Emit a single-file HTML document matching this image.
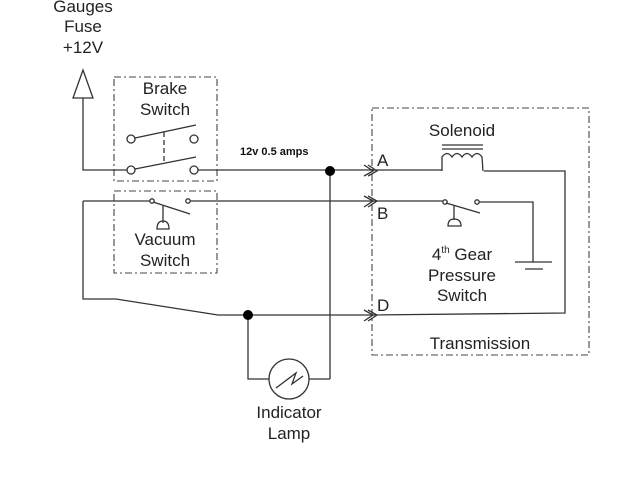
<!DOCTYPE html>
<html><head><style>body{margin:0;background:#fff}svg{display:block}text{font-family:"Liberation Sans",sans-serif;fill:#222}</style></head><body>
<svg width="640" height="480" viewBox="0 0 640 480" xmlns="http://www.w3.org/2000/svg">
<g fill="none" stroke="#333" stroke-width="1.3">
<g stroke="#444" stroke-width="1.1" stroke-dasharray="7,3,2,3">
<rect x="114" y="77" width="103" height="104"/>
<rect x="114" y="191" width="103" height="82"/>
<rect x="372" y="108" width="217" height="247"/>
</g>
<polygon points="83,70 73,98 93,98"/>
<polyline points="83,98 83,170 127,170"/>
<circle cx="131" cy="139" r="4"/><circle cx="194" cy="139" r="4"/>
<circle cx="131" cy="170" r="4"/><circle cx="194" cy="170" r="4"/>
<line x1="135" y1="138" x2="196" y2="125"/>
<line x1="135" y1="169" x2="196" y2="157"/>
<line x1="164" y1="132" x2="164" y2="163" stroke-dasharray="5,3"/>
<line x1="198" y1="170" x2="442" y2="170"/>
<line x1="83" y1="201" x2="150" y2="201"/>
<circle cx="152" cy="201" r="2.2"/><circle cx="188" cy="201" r="2.2"/>
<line x1="153" y1="202" x2="190" y2="214"/>
<line x1="163" y1="206" x2="163" y2="223"/>
<path d="M157,229 Q157,221 163,221 Q169,221 169,229 Z"/>
<line x1="190" y1="201" x2="443" y2="201"/>
<polyline points="83,201 83,299 116,299 218,315 372,315"/>
<polyline points="372,315 565,313 565,171 484,171"/>
<line x1="330" y1="171" x2="330" y2="379"/>
<polyline points="248,315 248,379 269,379"/>
<line x1="309" y1="379" x2="330" y2="379"/>
<circle cx="289" cy="379" r="20"/>
<polyline points="276,388 296,373 292,384 303,376"/>
<polyline points="364,165 373,171 364,176"/><polyline points="368,165 377,171 368,176"/>
<polyline points="364,196 373,201 364,207"/><polyline points="368,196 377,201 368,207"/>
<polyline points="364,310 373,315 364,321"/><polyline points="368,310 377,315 368,321"/>
<path d="M442,171 L442,157 Q447,150 452,157 Q457,150 462,157 Q467,150 472,157 Q477,150 482,157 L483,171"/>
<line x1="442" y1="145" x2="483" y2="145"/><line x1="442" y1="149" x2="483" y2="149"/>
<circle cx="445" cy="202" r="2.2"/><circle cx="477" cy="202" r="2.2"/>
<line x1="446" y1="203" x2="480" y2="213"/>
<line x1="454" y1="206" x2="454" y2="220"/>
<path d="M448,226 Q448,219 454,219 Q461,219 461,226 Z"/>
<polyline points="479,202 533,202 533,262"/>
<line x1="515" y1="262" x2="552" y2="262"/>
<line x1="525" y1="269" x2="543" y2="269"/>
</g>
<circle cx="330" cy="171" r="5" fill="#000"/>
<circle cx="248" cy="315" r="5" fill="#000"/>
<g font-size="17" text-anchor="middle">
<text x="83" y="12">Gauges</text>
<text x="83" y="32">Fuse</text>
<text x="83" y="53">+12V</text>
<text x="165" y="94">Brake</text>
<text x="165" y="115">Switch</text>
<text x="165" y="245">Vacuum</text>
<text x="165" y="266">Switch</text>
<text x="462" y="136">Solenoid</text>
<text x="462" y="260">4<tspan font-size="10" dy="-7">th</tspan><tspan dy="7"> Gear</tspan></text>
<text x="462" y="281">Pressure</text>
<text x="462" y="301">Switch</text>
<text x="480" y="349">Transmission</text>
<text x="289" y="418">Indicator</text>
<text x="289" y="439">Lamp</text>
</g>
<g font-size="17"><text x="377" y="166">A</text><text x="377" y="219">B</text><text x="377" y="311">D</text></g>
<text x="240" y="155" font-size="11" font-weight="bold" style="fill:#111">12v 0.5 amps</text>
</svg>
</body></html>
